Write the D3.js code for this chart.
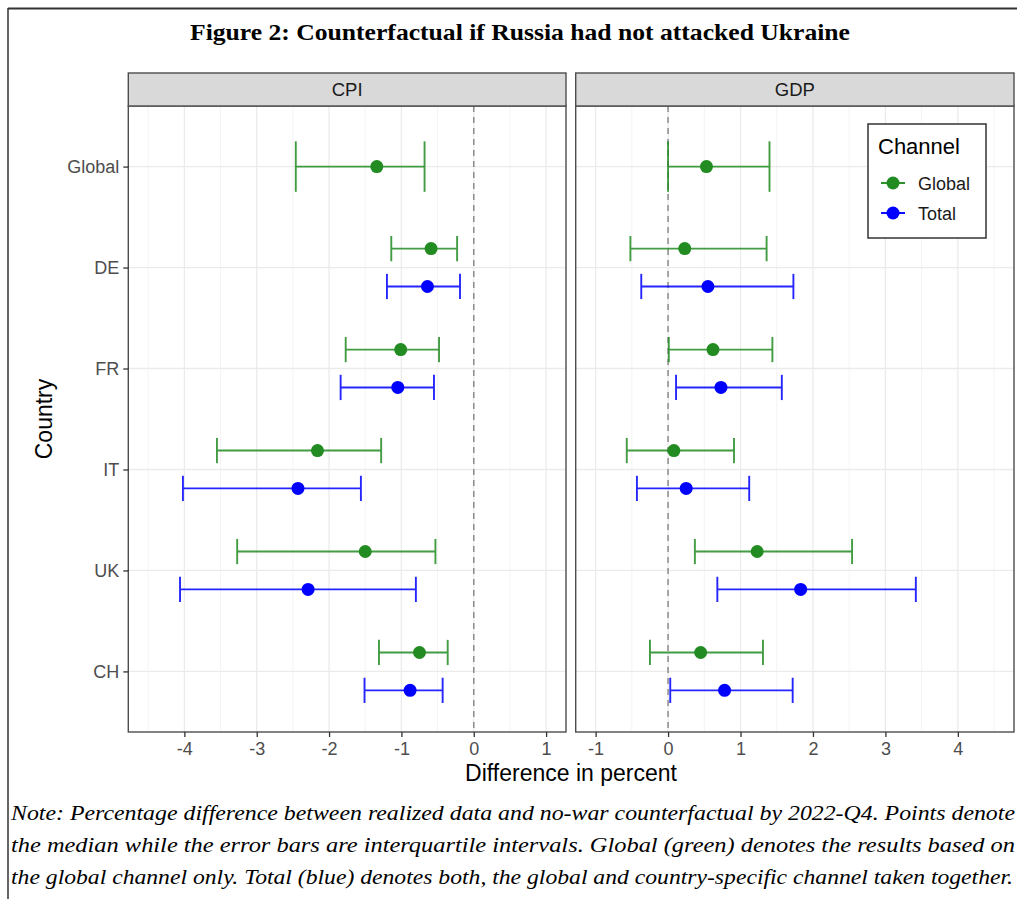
<!DOCTYPE html>
<html>
<head>
<meta charset="utf-8">
<script src="https://cdn.jsdelivr.net/npm/d3@7"></script>
<style>
  body { margin: 0; background: #fff; }
  svg { display: block; }
</style>
</head>
<body>
<svg id="fig" width="1017" height="899"></svg>
<script>
// data (median and interquartile bounds, percent)
var countries = ["Global", "DE", "FR", "IT", "UK", "CH"];
var channels = ["Global", "Total"];
var panels = ["CPI", "GDP"];

var cpiGlobalMed = [-1.34, -0.59, -1.01, -2.16, -1.50, -0.75],
    cpiGlobalLo  = [-2.46, -1.14, -1.77, -3.55, -3.27, -1.31],
    cpiGlobalHi  = [-0.68, -0.23, -0.48, -1.28, -0.53, -0.36];
var cpiTotalMed  = [null, -0.64, -1.05, -2.43, -2.29, -0.88],
    cpiTotalLo   = [null, -1.20, -1.84, -4.02, -4.06, -1.51],
    cpiTotalHi   = [null, -0.19, -0.55, -1.56, -0.80, -0.43];

var gdpGlobalMed = [0.53, 0.23, 0.62, 0.08, 1.23, 0.45],
    gdpGlobalLo  = [0.00, -0.52, 0.01, -0.57, 0.37, -0.25],
    gdpGlobalHi  = [1.40, 1.36, 1.44, 0.91, 2.54, 1.31];
var gdpTotalMed  = [null, 0.55, 0.73, 0.25, 1.83, 0.78],
    gdpTotalLo   = [null, -0.37, 0.11, -0.43, 0.68, 0.03],
    gdpTotalHi   = [null, 1.73, 1.57, 1.12, 3.42, 1.72];

var cpiLimits = [-4.5, 1], gdpLimits = [-1, 4.5];
var cpiTicks = [-4, -3, -2, -1, 0, 1], gdpTicks = [-1, 0, 1, 2, 3, 4];

var titleText = "Figure 2: Counterfactual if Russia had not attacked Ukraine";
var noteLines = [
  "Note: Percentage difference between realized data and no-war counterfactual by 2022-Q4. Points denote",
  "the median while the error bars are interquartile intervals. Global (green) denotes the results based on",
  "the global channel only. Total (blue) denotes both, the global and country-specific channel taken together."
];

var colors = {Global: "#228B22", Total: "#0000FF"};

var sans = "'Liberation Sans', Arial, Helvetica, sans-serif",
    serif = "'Times New Roman', 'Liberation Serif', Times, serif";

var svg = d3.select("#fig");

var stripTop = 73, panelTop = 106, panelBottom = 732;
var panelX = {CPI: [128.3, 566], GDP: [575.7, 1014]};

function build(panel){
    var rows = [];
    var src = panel == "CPI" ?
        {Global: [cpiGlobalMed, cpiGlobalLo, cpiGlobalHi], Total: [cpiTotalMed, cpiTotalLo, cpiTotalHi]} :
        {Global: [gdpGlobalMed, gdpGlobalLo, gdpGlobalHi], Total: [gdpTotalMed, gdpTotalLo, gdpTotalHi]};
    countries.forEach(function(c, i){
        var n = channels.filter(function(ch){ return src[ch][0][i] != null; }).length;
        var k = 0;
        channels.forEach(function(ch){
            if(src[ch][0][i] == null) return;
            rows.push({country: c, channel: ch, med: src[ch][0][i], lo: src[ch][1][i], hi: src[ch][2][i], n: n, k: k});
            k++;
        });
    });
    return rows;
}

// outer frame (top and left lines visible in the scan)
svg.append("line").attr("x1", 8).attr("x2", 1017).attr("y1", 8.5).attr("y2", 8.5)
   .style("stroke", "#333").style("stroke-width", 2);
svg.append("line").attr("x1", 8).attr("x2", 8).attr("y1", 8).attr("y2", 899)
   .style("stroke", "#333").style("stroke-width", 1.5);

svg.append("text")
   .attr("x", 520).attr("y", 40)
   .attr("text-anchor", "middle")
   .attr("textLength", 660).attr("lengthAdjust", "spacingAndGlyphs")
   .style("font-family", serif).style("font-weight", "bold").style("font-size", "23px")
   .text(titleText);

var y = d3.scalePoint().domain(countries).range([panelTop, panelBottom]).padding(0.6);
var step = y.step();

panels.forEach(function(panel){
    var lim = panel == "CPI" ? cpiLimits : gdpLimits,
        ticks = panel == "CPI" ? cpiTicks : gdpTicks,
        pad = (lim[1] - lim[0]) * 0.05;
    var x = d3.scaleLinear().domain([lim[0] - pad, lim[1] + pad]).range(panelX[panel]);
    var x0 = panelX[panel][0], x1 = panelX[panel][1];
    var g = svg.append("g").attr("class", "panel");

    g.append("rect").attr("x", x0).attr("y", panelTop).attr("width", x1 - x0).attr("height", panelBottom - panelTop)
     .style("fill", "#fff");

    // minor grid
    var minor = d3.range(Math.ceil((lim[0] - pad) * 2) / 2, lim[1] + pad, 0.5).filter(function(v){ return v % 1 != 0; });
    g.selectAll("line.minor").data(minor).enter().append("line")
     .attr("x1", function(d){ return x(d); }).attr("x2", function(d){ return x(d); })
     .attr("y1", panelTop).attr("y2", panelBottom)
     .style("stroke", "#f4f4f4").style("stroke-width", 1);
    g.selectAll("line.majx").data(ticks).enter().append("line")
     .attr("x1", function(d){ return x(d); }).attr("x2", function(d){ return x(d); })
     .attr("y1", panelTop).attr("y2", panelBottom)
     .style("stroke", "#ebebeb").style("stroke-width", 1.3);
    g.selectAll("line.majy").data(countries).enter().append("line")
     .attr("x1", x0).attr("x2", x1)
     .attr("y1", function(d){ return y(d); }).attr("y2", function(d){ return y(d); })
     .style("stroke", "#ebebeb").style("stroke-width", 1.3);

    // zero reference line
    g.append("line").attr("x1", x(0)).attr("x2", x(0)).attr("y1", panelTop).attr("y2", panelBottom)
     .style("stroke", "#8c8c8c").style("stroke-width", 1.5).style("stroke-dasharray", "6,5");

    var rows = build(panel);
    var ypos = function(d){
        var dodge = 0.75 / d.n;
        return y(d.country) + (-0.375 + dodge * (d.k + 0.5)) * step * (d.n > 1 ? 1 : 0);
    };
    var capHalf = function(d){ return 0.25 / d.n * step; };

    var eb = g.selectAll("g.eb").data(rows).enter().append("g")
              .style("stroke", function(d){ return colors[d.channel]; })
              .style("stroke-width", 1.9)
              .style("opacity", 0.85);
    eb.append("line").attr("x1", function(d){ return x(d.lo); }).attr("x2", function(d){ return x(d.hi); })
      .attr("y1", ypos).attr("y2", ypos);
    eb.append("line").attr("x1", function(d){ return x(d.lo); }).attr("x2", function(d){ return x(d.lo); })
      .attr("y1", function(d){ return ypos(d) - capHalf(d); }).attr("y2", function(d){ return ypos(d) + capHalf(d); });
    eb.append("line").attr("x1", function(d){ return x(d.hi); }).attr("x2", function(d){ return x(d.hi); })
      .attr("y1", function(d){ return ypos(d) - capHalf(d); }).attr("y2", function(d){ return ypos(d) + capHalf(d); });

    g.selectAll("circle.pt").data(rows).enter().append("circle")
     .attr("cx", function(d){ return x(d.med); }).attr("cy", ypos).attr("r", 6.5)
     .style("fill", function(d){ return colors[d.channel]; });

    // panel border
    g.append("rect").attr("x", x0).attr("y", panelTop).attr("width", x1 - x0).attr("height", panelBottom - panelTop)
     .style("fill", "none").style("stroke", "#4d4d4d").style("stroke-width", 1.4);

    // strip
    g.append("rect").attr("x", x0).attr("y", stripTop).attr("width", x1 - x0).attr("height", panelTop - stripTop)
     .style("fill", "#d9d9d9").style("stroke", "#4d4d4d").style("stroke-width", 1.4);
    g.append("text").attr("x", (x0 + x1) / 2).attr("y", (stripTop + panelTop) / 2 + 6.5)
     .attr("text-anchor", "middle")
     .style("font-family", sans).style("font-size", "18.5px").style("fill", "#1a1a1a")
     .text(panel);

    var ax = g.append("g").attr("transform", "translate(0," + panelBottom + ")")
              .call(d3.axisBottom(x).tickValues(ticks).tickSize(5).tickPadding(5).tickFormat(d3.format("d")));
    ax.select("path.domain").remove();
    ax.selectAll("line").style("stroke", "#333").style("stroke-width", 1.3);
    ax.selectAll("text").style("font-family", sans).style("font-size", "18px").style("fill", "#4d4d4d")
      .text(function(d){ return d < 0 ? "-" + Math.abs(d) : d; });

    if(panel == "CPI"){
        var ay = g.append("g").attr("transform", "translate(" + x0 + ",0)")
                  .call(d3.axisLeft(y).tickSize(5).tickPadding(4));
        ay.select("path.domain").remove();
        ay.selectAll("line").style("stroke", "#333").style("stroke-width", 1.3);
        ay.selectAll("text").style("font-family", sans).style("font-size", "18px").style("fill", "#4d4d4d");
    }
});

// axis titles
svg.append("text").attr("x", 571).attr("y", 781).attr("text-anchor", "middle")
   .style("font-family", sans).style("font-size", "23px").style("fill", "#000")
   .text("Difference in percent");
svg.append("text").attr("transform", "translate(52," + ((panelTop + panelBottom) / 2) + ") rotate(-90)")
   .attr("text-anchor", "middle")
   .style("font-family", sans).style("font-size", "23px").style("fill", "#000")
   .text("Country");

// legend
var leg = svg.append("g").attr("transform", "translate(868,124)");
leg.append("rect").attr("width", 118).attr("height", 114)
   .style("fill", "#fff").style("stroke", "#333").style("stroke-width", 1.5);
leg.append("text").attr("x", 10).attr("y", 30)
   .style("font-family", sans).style("font-size", "22px").style("fill", "#000")
   .text("Channel");
var item = leg.selectAll("g.item").data(channels).enter().append("g")
   .attr("transform", function(d, i){ return "translate(0," + (59 + i * 30) + ")"; });
item.append("line").attr("x1", 13).attr("x2", 37).attr("y1", 0).attr("y2", 0)
   .style("stroke", function(d){ return colors[d]; }).style("stroke-width", 1.9);
item.append("circle").attr("cx", 25).attr("cy", 0).attr("r", 6.5)
   .style("fill", function(d){ return colors[d]; });
item.append("text").attr("x", 50).attr("y", 6.5)
   .style("font-family", sans).style("font-size", "18px").style("fill", "#1a1a1a")
   .text(function(d){ return d; });

// note
svg.selectAll("text.note").data(noteLines).enter().append("text")
   .attr("class", "note")
   .attr("x", 11).attr("y", function(d, i){ return 820 + i * 32; })
   .attr("textLength", function(d, i){ return i == 2 ? 1002 : 1004; })
   .attr("lengthAdjust", "spacingAndGlyphs")
   .style("font-family", serif).style("font-style", "italic").style("font-size", "21px").style("fill", "#000")
   .text(function(d){ return d; });
</script>
</body>
</html>
